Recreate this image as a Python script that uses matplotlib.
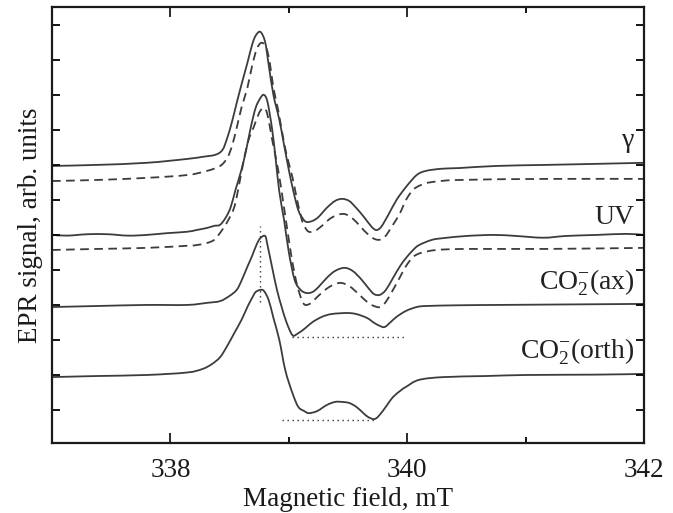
import matplotlib
matplotlib.use("Agg")
import matplotlib.pyplot as plt
from matplotlib.path import Path
from matplotlib.patches import PathPatch
from matplotlib.ticker import FixedLocator, NullFormatter

plt.rcParams['font.family'] = ['Liberation Serif', 'DejaVu Serif']
plt.rcParams['mathtext.fontset'] = 'custom'
plt.rcParams['mathtext.rm'] = 'Liberation Serif'
plt.rcParams['mathtext.it'] = 'Liberation Serif:italic'
plt.rcParams['mathtext.bf'] = 'Liberation Serif:bold'

# ---------------- data (field in mT, signal in arb. units) ----------------
gamma_x = [337.0, 337.38, 337.80, 338.14, 338.27, 338.38, 338.44, 338.48, 338.52, 338.56,
           338.60, 338.65, 338.69, 338.72, 338.76, 338.80, 338.83, 338.87, 338.92, 338.96,
           339.00, 339.04, 339.08, 339.12, 339.15, 339.20, 339.25, 339.32, 339.39, 339.45,
           339.51, 339.57, 339.64, 339.70, 339.74, 339.78, 339.84, 339.91, 339.99, 340.08,
           340.16, 340.29, 340.44, 340.75, 341.17, 341.60, 342.0]
gamma_y = [7.97, 8.00, 8.06, 8.17, 8.23, 8.29, 8.43, 8.77, 9.23, 9.77,
           10.29, 10.91, 11.43, 11.69, 11.80, 11.51, 10.86, 10.00, 9.29, 8.57,
           7.86, 7.23, 6.71, 6.46, 6.37, 6.40, 6.51, 6.77, 6.97, 7.03,
           6.97, 6.77, 6.49, 6.23, 6.14, 6.23, 6.57, 7.00, 7.37, 7.71,
           7.83, 7.89, 7.91, 7.97, 8.00, 8.03, 8.06]

gamma_fit_x = [337.0, 337.38, 337.80, 338.14, 338.31, 338.42, 338.48, 338.52, 338.56, 338.60,
               338.65, 338.69, 338.73, 338.77, 338.81, 338.84, 338.87, 338.91, 338.94, 338.98,
               339.03, 339.07, 339.11, 339.14, 339.17, 339.22, 339.28, 339.36, 339.45, 339.51,
               339.57, 339.64, 339.71, 339.76, 339.81, 339.88, 339.94, 339.99, 340.05, 340.12,
               340.21, 340.44, 341.17, 342.0]
gamma_fit_y = [7.54, 7.57, 7.63, 7.71, 7.83, 7.97, 8.20, 8.54, 9.06, 9.63,
               10.20, 10.83, 11.31, 11.49, 11.34, 10.91, 10.20, 9.57, 9.00, 8.31,
               7.66, 7.00, 6.43, 6.20, 6.09, 6.11, 6.26, 6.49, 6.60, 6.54,
               6.37, 6.11, 5.91, 5.86, 5.94, 6.29, 6.63, 7.00, 7.29, 7.43,
               7.51, 7.57, 7.60, 7.60]

uv_x = [337.0, 337.13, 337.30, 337.47, 337.64, 337.80, 337.97, 338.14, 338.22, 338.31,
        338.37, 338.42, 338.47, 338.51, 338.55, 338.60, 338.64, 338.68, 338.72, 338.76,
        338.79, 338.82, 338.86, 338.89, 338.92, 338.96, 339.00, 339.05, 339.10, 339.15,
        339.20, 339.25, 339.32, 339.39, 339.47, 339.54, 339.61, 339.67, 339.72, 339.77,
        339.82, 339.88, 339.94, 339.99, 340.05, 340.10, 340.21, 340.31, 340.50, 340.73,
        340.92, 341.15, 341.34, 341.60, 341.85, 342.0]
uv_y = [6.00, 5.98, 6.02, 6.02, 5.98, 6.00, 6.05, 6.09, 6.14, 6.20,
        6.26, 6.29, 6.51, 6.80, 7.29, 7.86, 8.43, 9.09, 9.63, 9.91,
        10.00, 9.80, 9.00, 8.14, 7.23, 6.43, 5.51, 4.71, 4.43, 4.34,
        4.37, 4.51, 4.77, 4.97, 5.06, 4.97, 4.74, 4.49, 4.31, 4.29,
        4.43, 4.77, 5.11, 5.34, 5.57, 5.71, 5.86, 5.91, 5.97, 6.00,
        5.97, 5.92, 5.97, 6.00, 6.03, 6.00]

uv_fit_x = [337.0, 337.38, 337.80, 338.14, 338.22, 338.31, 338.37, 338.42, 338.48, 338.54,
            338.58, 338.62, 338.66, 338.705, 338.75, 338.79, 338.82, 338.86, 338.91, 338.95,
            338.99, 339.03, 339.07, 339.11, 339.14, 339.19, 339.25, 339.34, 339.43, 339.51,
            339.59, 339.67, 339.72, 339.77, 339.82, 339.88, 339.94, 339.99, 340.05, 340.12,
            340.25, 340.50, 341.17, 342.0]
uv_fit_y = [5.57, 5.60, 5.63, 5.69, 5.71, 5.77, 5.86, 6.06, 6.37, 6.80,
            7.43, 8.14, 8.71, 9.09, 9.49, 9.63, 9.43, 8.71, 7.86, 7.00,
            6.09, 5.23, 4.57, 4.14, 4.00, 4.06, 4.26, 4.51, 4.63, 4.54,
            4.31, 4.06, 3.97, 3.94, 4.09, 4.43, 4.80, 5.11, 5.37, 5.49,
            5.57, 5.60, 5.60, 5.63]

ax_x = [337.0, 337.38, 337.80, 338.14, 338.31, 338.42, 338.50, 338.56, 338.60, 338.65,
        338.69, 338.73, 338.76, 338.80, 338.82, 338.86, 338.90, 338.94, 338.98, 339.03,
        339.07, 339.14, 339.20, 339.28, 339.36, 339.49, 339.57, 339.66, 339.72, 339.77,
        339.81, 339.86, 339.91, 339.99, 340.08, 340.16, 340.42, 340.75, 341.17, 342.0]
ax_y = [3.94, 3.97, 4.00, 4.00, 4.06, 4.11, 4.26, 4.43, 4.69, 5.09,
        5.40, 5.74, 5.91, 5.97, 5.71, 5.06, 4.43, 3.94, 3.51, 3.14,
        3.17, 3.34, 3.51, 3.66, 3.74, 3.77, 3.74, 3.63, 3.49, 3.40,
        3.37, 3.51, 3.66, 3.83, 3.94, 3.97, 3.99, 4.00, 4.01, 4.03]

orth_x = [337.0, 337.38, 337.80, 338.14, 338.27, 338.35, 338.42, 338.48, 338.54, 338.60,
          338.65, 338.69, 338.72, 338.76, 338.79, 338.83, 338.87, 338.92, 338.97, 339.03,
          339.08, 339.13, 339.17, 339.24, 339.32, 339.39, 339.45, 339.51, 339.57, 339.63,
          339.67, 339.72, 339.76, 339.83, 339.88, 339.95, 339.99, 340.10, 340.31, 340.67,
          341.01, 341.60, 342.0]
orth_y = [1.94, 1.97, 2.00, 2.07, 2.17, 2.31, 2.51, 2.83, 3.20, 3.57,
          3.94, 4.20, 4.37, 4.43, 4.40, 4.14, 3.63, 3.00, 2.14, 1.49,
          1.09, 0.97, 0.91, 0.97, 1.14, 1.23, 1.23, 1.20, 1.09, 0.91,
          0.80, 0.74, 0.83, 1.14, 1.37, 1.57, 1.66, 1.86, 1.94, 1.97,
          2.00, 2.01, 2.03]

# guide lines
peak_field = 338.76
peak_guide_y = [4.09, 6.26]
ax_guide_x = [339.03, 339.99]
ax_guide_level = 3.09
orth_guide_x = [338.94, 339.72]
orth_guide_level = 0.71

labels = ['γ', 'UV', r'CO$_2^{-}$(ax)', r'CO$_2^{-}$(orth)']
label_levels = [8.71, 6.51, 4.63, 2.66]

x_major = [338, 340, 342]
x_minor = [339, 341]
y_ticks = list(range(1, 13))


def smooth_path(xs, ys):
    """Cubic Bezier path passing through every measured point."""
    pts = list(zip(xs, ys))
    verts = [pts[0]]
    codes = [Path.MOVETO]
    n = len(pts)
    for i in range(n - 1):
        p0 = pts[i - 1] if i > 0 else pts[i]
        p1 = pts[i]
        p2 = pts[i + 1]
        p3 = pts[i + 2] if i + 2 < n else pts[i + 1]
        c1 = (p1[0] + (p2[0] - p0[0]) / 6.0, p1[1] + (p2[1] - p0[1]) / 6.0)
        c2 = (p2[0] - (p3[0] - p1[0]) / 6.0, p2[1] - (p3[1] - p1[1]) / 6.0)
        verts += [c1, c2, p2]
        codes += [Path.CURVE4] * 3
    return Path(verts, codes)


# ---------------- figure ----------------
fig = plt.figure(figsize=(6.73, 5.13), dpi=100)
ax = fig.add_axes([52 / 673, 70 / 513, 592 / 673, 436 / 513])

col = '#3c3c3c'
lw = 1.3
dashed = (0, (4.8, 3.0))
for xs, ys, ls in [(gamma_x, gamma_y, '-'), (gamma_fit_x, gamma_fit_y, dashed),
                   (uv_x, uv_y, '-'), (uv_fit_x, uv_fit_y, dashed),
                   (ax_x, ax_y, '-'), (orth_x, orth_y, '-')]:
    ax.add_patch(PathPatch(smooth_path(xs, ys), fill=False, edgecolor=col,
                           lw=lw, linestyle=ls, capstyle='butt', joinstyle='round'))

dot = dict(color='#333333', lw=1.0, linestyle=(0, (1.0, 2.6)))
ax.plot([peak_field, peak_field], peak_guide_y, **dot)
ax.plot(ax_guide_x, [ax_guide_level, ax_guide_level], **dot)
ax.plot(orth_guide_x, [orth_guide_level, orth_guide_level], **dot)

for txt, lev in zip(labels, label_levels):
    ax.text(341.92, lev, txt, ha='right', va='center', fontsize=20, color='#222222')

ax.set_xlim(337, 342)
ax.set_ylim(0.057, 12.51)

ax.xaxis.set_major_locator(FixedLocator(x_major))
ax.xaxis.set_minor_locator(FixedLocator(x_minor))
ax.yaxis.set_major_locator(FixedLocator(y_ticks))
ax.yaxis.set_major_formatter(NullFormatter())

for s in ax.spines.values():
    s.set_linewidth(1.6)
    s.set_color('#1a1a1a')

ax.tick_params(axis='x', which='major', direction='in', top=True, bottom=True,
               length=7.5, width=1.3, labelsize=19.5, pad=11, colors='#1a1a1a')
ax.tick_params(axis='x', which='minor', direction='in', top=True, bottom=True,
               length=4.5, width=1.3)
ax.tick_params(axis='y', which='major', direction='in', left=True, right=True,
               length=6, width=1.3)

ax.set_xlabel('Magnetic field, mT', fontsize=19.5, labelpad=3, color='#1a1a1a')
ax.set_ylabel('EPR signal, arb. units', fontsize=19.5, labelpad=3, color='#1a1a1a')

fig.savefig('out.png', dpi=100)
